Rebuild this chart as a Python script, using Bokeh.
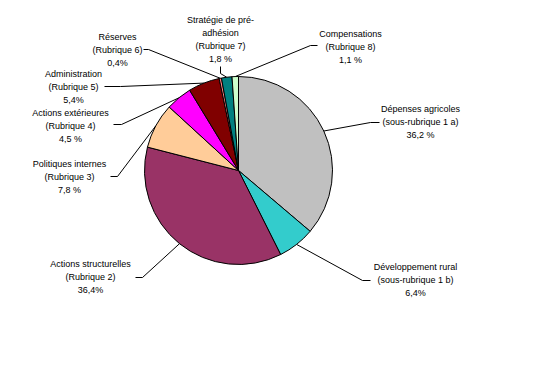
import math
from bokeh.plotting import figure
from bokeh.models import Range1d, ColumnDataSource
from bokeh.core.properties import value
from bokeh.embed import file_html
from bokeh.resources import INLINE

# ---- data ----
names = [
    ["Dépenses agricoles", "(sous-rubrique 1 a)"],
    ["Développement rural", "(sous-rubrique 1 b)"],
    ["Actions structurelles", "(Rubrique 2)"],
    ["Politiques internes", "(Rubrique 3)"],
    ["Actions extérieures", "(Rubrique 4)"],
    ["Administration", "(Rubrique 5)"],
    ["Réserves", "(Rubrique 6)"],
    ["Stratégie de pré-", "adhésion", "(Rubrique 7)"],
    ["Compensations", "(Rubrique 8)"],
]
values = [36.2, 6.4, 36.4, 7.8, 4.5, 5.4, 0.4, 1.8, 1.1]
pct_labels = ["36,2 %", "6,4%", "36,4%", "7,8 %", "4,5 %", "5,4%", "0,4%", "1,8 %", "1,1 %"]
colors = ["#C0C0C0", "#33CCCC", "#993366", "#FFCC99", "#FF00FF",
          "#800000", "#FF8080", "#008080", "#CCFFCC"]

# ---- layout (reference pixel coordinates) ----
H = 366
cx, cy, R = 238, 170, 94
label_pos = [(420, 108), (415, 266), (90, 263), (69, 163), (70, 112),
             (73, 73), (117, 36), (220, 19), (350, 33)]
elbows = [(370, 122), (362, 280), (142, 277), (117, 176), (121, 124),
          (120, 86), (148, 49), (220, 73), (310, 45)]
tails = [(379, 122), (370, 280), (135, 277), (110, 176), (113, 124),
         (104, 86), (143, 49), (220, 66), (317, 45)]
LINE_H = 13


def Y(py):
    return H - py


p = figure(width=528, height=350, output_backend="svg", toolbar_location=None,
           x_range=Range1d(0, 528), y_range=Range1d(16, 366),
           min_border=0, min_border_left=0, min_border_right=0,
           min_border_top=0, min_border_bottom=0)
p.axis.visible = False
p.grid.visible = False
p.outline_line_color = None
p.background_fill_color = "white"
p.border_fill_color = "white"

total = sum(values)
starts, ends, mids = [], [], []
cum = 0.0
for v in values:
    a0 = math.pi / 2 - cum / total * 2 * math.pi
    cum += v
    a1 = math.pi / 2 - cum / total * 2 * math.pi
    starts.append(a0)
    ends.append(a1)
    mids.append((a0 + a1) / 2)

src = ColumnDataSource(dict(start=starts, end=ends, color=colors))
p.wedge(x=cx, y=Y(cy), radius=R, start_angle="start", end_angle="end",
        direction="clock", fill_color="color", line_color="black",
        line_width=1, source=src)

# leader lines
xs, ys = [], []
for m, e, t in zip(mids, elbows, tails):
    ex = cx + R * math.cos(m)
    ey = Y(cy) + R * math.sin(m)
    xs.append([ex, e[0], t[0]])
    ys.append([ey, Y(e[1]), Y(t[1])])
p.multi_line(xs=xs, ys=ys, line_color="black", line_width=1)

# labels
tx, ty, tt = [], [], []
for nm, pc, (lx, ly) in zip(names, pct_labels, label_pos):
    lines = nm + [pc]
    for i, s in enumerate(lines):
        tx.append(lx)
        ty.append(Y(ly + i * LINE_H))
        tt.append(s)
p.text(x=tx, y=ty, text=tt, text_align="center", text_baseline="middle",
       text_font=value("Liberation Sans"), text_font_size="9px",
       text_color="black")

open("out.html", "w").write(file_html(p, INLINE))
